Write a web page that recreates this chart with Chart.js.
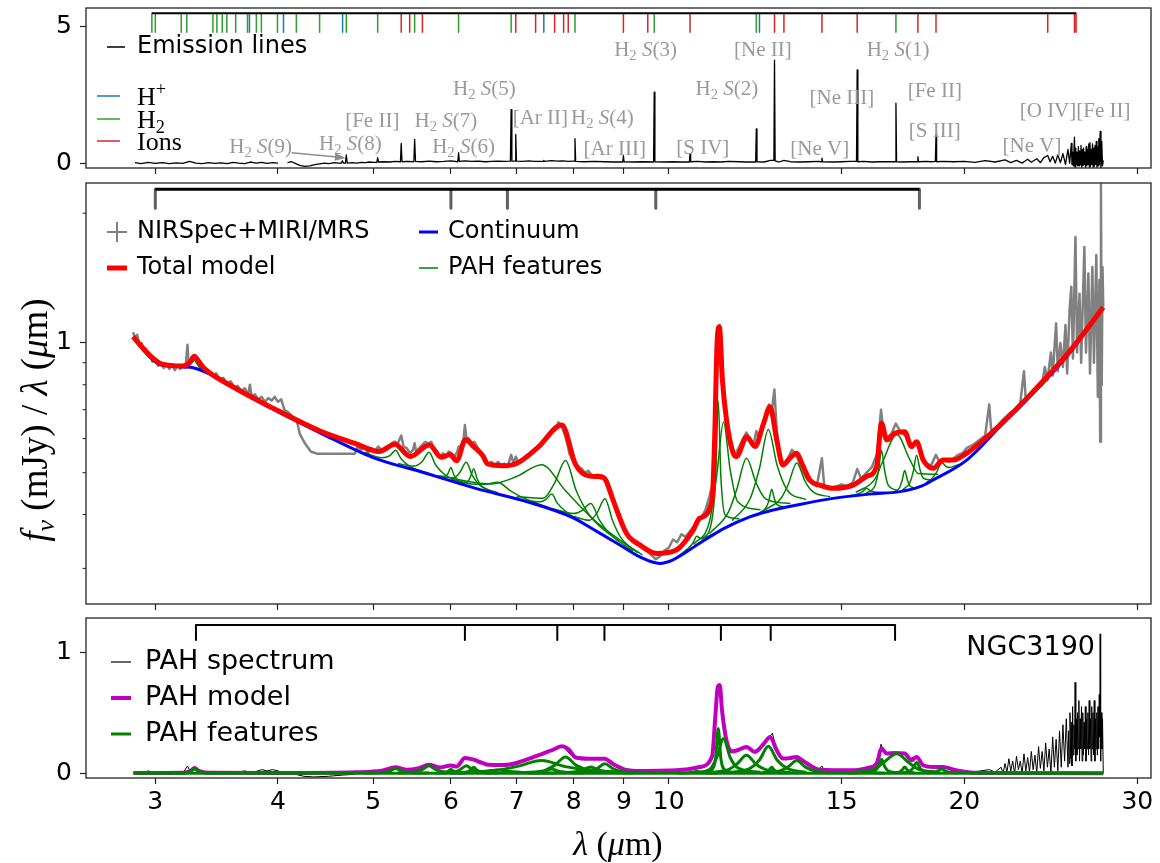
<!DOCTYPE html>
<html>
<head>
<meta charset="utf-8">
<script src="https://cdn.jsdelivr.net/npm/chart.js@4.4.1/dist/chart.umd.min.js"></script>
<style>
  html, body { margin: 0; padding: 0; background: #fff; }
  #wrap { position: relative; width: 1160px; height: 863px; }
  canvas { position: absolute; left: 0; }
</style>
</head>
<body>
<div id="wrap">
  <canvas id="top" width="1160" height="180" style="top:0"></canvas>
  <canvas id="mid" width="1160" height="435" style="top:180px"></canvas>
  <canvas id="bot" width="1160" height="248" style="top:615px"></canvas>
</div>
<script>
// axes
const X_MIN = 2.55, X_MAX = 30.98;
const xTicks = [3, 4, 5, 6, 7, 8, 9, 10, 15, 20, 30];
const topYTicks = [0, 5];
const midYTicks = [1];
const midYMinor = [0.3, 0.4, 0.5, 0.6, 0.7, 0.8, 0.9, 2];
const botYTicks = [0, 1];

// line markers of the top panel (micron)
const lineH2 = [2.976, 3.000, 3.188, 3.230, 3.434, 3.466, 3.510, 3.548, 3.622, 3.724, 3.802, 3.847, 3.995, 4.176, 4.410, 4.695, 5.053, 5.511, 6.109, 6.910, 8.026, 9.665, 12.279, 17.035];
const lineHplus = [3.741, 4.052, 4.654, 7.460, 12.37];
const lineIon = [5.340, 5.447, 5.612, 6.985, 7.318, 7.652, 7.815, 7.90, 8.991, 9.52, 10.511, 12.814, 13.10, 14.322, 15.555, 17.936, 18.713, 24.318, 25.890, 25.988];
const topMarkY = [5.5, 4.8];
// absorption bands (middle) and PAH complexes (bottom)
const absBands = [3.0, 6.0, 6.85, 9.7, 18.0];
const midMarkY = [2.273, 2.053];
const pahBands = [3.3, 6.2, 7.7, 8.6, 11.3, 12.7, 17.0];
const botMarkY = [1.223, 1.099];

// top panel: continuum subtracted emission line spectrum
const topSpec = [
[2.86,0.02],[2.9,-0.02],[2.95,0.03],[3.0,-0.01],[3.05,0.02],[3.1,-0.02],[3.15,0.01],[3.2,-0.01],[3.25,0.06],[3.3,0.0],[3.35,-0.02],[3.4,0.02],[3.45,-0.01],[3.5,0.01],[3.55,-0.02],[3.6,0.03],[3.65,0.0],[3.7,-0.02],[3.75,0.04],[3.8,0.0],[3.85,0.03],[3.9,-0.01],[3.95,0.02],[4.0,0.0],[4.04,null],
[4.09,0.02],[4.13,0.05],[4.17,-0.02],[4.21,-0.08],[4.26,-0.12],[4.31,-0.1],[4.36,-0.06],[4.41,-0.03],[4.46,0.0],[4.51,-0.02],[4.56,0.02],[4.61,0.0],[4.64,0.0],[4.652,0.08],[4.664,0.0],[4.685,0.0],[4.695,0.3],[4.705,0.0],[4.76,0.02],[4.81,0.0],[4.86,0.03],[4.91,0.02],[4.96,0.04],[5.01,0.03],[5.043,0.03],[5.053,0.2],[5.063,0.04],[5.12,0.05],[5.2,0.04],[5.26,0.06],[5.33,0.05],[5.34,0.72],[5.35,0.05],[5.42,0.06],[5.50,0.05],[5.511,0.87],[5.522,0.06],[5.6,0.05],[5.7,0.07],[5.8,0.05],[5.9,0.06],[6.0,0.08],[6.098,0.05],[6.109,0.38],[6.12,0.06],[6.2,0.08],[6.3,0.06],[6.4,0.07],[6.5,0.05],[6.6,0.06],[6.7,0.07],[6.8,0.06],[6.898,0.07],[6.91,1.96],[6.922,0.07],[6.973,0.07],[6.985,1.05],[6.997,0.07],[7.1,0.06],[7.2,0.08],[7.3,0.06],[7.448,0.06],[7.46,0.1],[7.472,0.06],[7.6,0.09],[7.7,0.07],[7.8,0.08],[7.9,0.06],[8.013,0.07],[8.026,0.9],[8.039,0.06],[8.2,0.05],[8.4,0.06],[8.6,0.05],[8.8,0.04],[8.977,0.04],[8.991,0.27],[9.005,0.05],[9.2,0.04],[9.4,0.05],[9.65,0.04],[9.665,2.6],[9.68,0.05],[9.9,0.04],[10.1,0.05],[10.3,0.04],[10.495,0.04],[10.511,0.34],[10.527,0.05],[10.7,0.06],[10.9,0.04],[11.1,0.05],[11.3,0.04],[11.5,0.06],[11.8,0.05],[12.0,0.04],[12.26,0.04],[12.279,1.25],[12.298,0.05],[12.5,0.04],[12.7,0.1],[12.795,0.1],[12.814,3.78],[12.833,0.08],[12.95,0.04],[13.1,0.1],[13.3,0.05],[13.6,0.04],[13.9,0.05],[14.2,0.06],[14.30,0.05],[14.322,0.18],[14.344,0.05],[14.7,0.04],[15.0,0.05],[15.3,0.06],[15.53,0.06],[15.555,3.42],[15.58,0.05],[15.8,0.06],[16.1,0.04],[16.4,0.05],[16.7,0.05],[17.01,0.05],[17.035,2.2],[17.06,0.05],[17.3,0.04],[17.6,0.05],[17.91,0.05],[17.936,0.24],[17.96,0.05],[18.3,0.06],[18.5,0.05],[18.685,0.06],[18.713,1.05],[18.74,0.05],[19.0,0.06],[19.5,0.05],[20.0,0.06],[20.5,0.03],[21.0,0.09],[21.5,0.04],[22.0,0.12],[22.3,0.02],[22.6,0.1],[22.9,0.0],[23.2,0.14],[23.4,0.03],[23.7,0.16],[23.9,0.02],[24.1,0.2],[24.318,0.28],[24.45,0.05],[24.6,0.25],[24.75,0.0],[24.9,0.3],[25.05,0.02],[25.2,0.35],[25.35,-0.05],[25.5,0.5],[25.6,0.0],
[25.7,0.72],[25.74,-0.05],[25.78,0.4],[25.82,-0.1],[25.86,0.5],[25.89,0.95],[25.93,-0.15],[25.97,0.55],[26.01,-0.05],[26.05,0.4],[26.09,-0.1],[26.13,0.6],[26.17,-0.1],[26.21,0.45],[26.25,-0.05],[26.29,0.65],[26.33,-0.15],[26.37,0.5],[26.41,-0.1],[26.45,0.55],[26.49,-0.05],[26.53,0.4],[26.57,-0.15],[26.61,0.6],[26.65,-0.1],[26.69,0.5],[26.73,-0.05],[26.77,0.7],[26.81,-0.15],[26.85,0.75],[26.89,-0.1],[26.93,0.5],[26.97,-0.05],[27.01,0.7],[27.05,-0.15],[27.09,0.55],[27.13,-0.1],[27.17,0.65],[27.21,-0.05],[27.25,0.8],[27.29,-0.15],[27.33,0.6],[27.37,-0.1],[27.41,0.9],[27.45,-0.05],[27.5,1.16],[27.55,-0.2],[27.6,0.8],[27.65,-0.1],[27.7,0.1]
];

// middle panel: observed spectrum, continuum, total model
const grayMid = [
[2.847,1.06],[2.86,1.03],[2.875,1.045],[2.89,0.99],[2.905,1.0],[2.92,0.96],[2.935,0.97],[2.95,0.935],[2.965,0.93],[2.98,0.905],[3.0,0.915],[3.02,0.885],[3.04,0.9],[3.06,0.875],[3.08,0.895],[3.10,0.87],[3.12,0.89],[3.14,0.865],[3.16,0.885],[3.18,0.87],[3.20,0.89],[3.22,0.875],[3.235,0.99],[3.245,0.885],[3.26,0.9],[3.28,0.925],[3.30,0.905],[3.32,0.89],[3.34,0.87],[3.36,0.885],[3.38,0.855],[3.40,0.86],[3.43,0.84],[3.46,0.85],[3.49,0.825],[3.52,0.83],[3.55,0.805],[3.58,0.815],[3.61,0.79],[3.64,0.795],[3.67,0.775],[3.70,0.785],[3.73,0.76],[3.745,0.8],[3.76,0.755],[3.79,0.76],[3.82,0.74],[3.85,0.75],[3.88,0.73],[3.91,0.745],[3.94,0.735],[3.97,0.75],[4.00,0.73],[4.03,0.74],[4.06,0.70],[4.10,0.69],[4.14,0.675],[4.18,0.66],[4.21,0.615],[4.26,0.585],[4.32,0.56],[4.39,0.553],[4.79,0.553],[4.82,0.575],[4.86,0.565],[4.90,0.575],[4.94,0.555],[4.98,0.57],[5.02,0.56],[5.06,0.575],[5.10,0.565],[5.14,0.572],[5.18,0.57],[5.22,0.585],[5.26,0.59],[5.30,0.585],[5.34,0.61],[5.37,0.575],[5.41,0.57],[5.45,0.555],[5.49,0.565],[5.51,0.585],[5.53,0.56],[5.57,0.57],[5.61,0.58],[5.65,0.59],[5.69,0.585],[5.73,0.59],[5.77,0.565],[5.81,0.56],[5.85,0.545],[5.89,0.555],[5.93,0.545],[5.97,0.56],[6.01,0.555],[6.05,0.545],[6.09,0.56],[6.11,0.575],[6.14,0.575],[6.18,0.60],[6.20,0.645],[6.22,0.605],[6.26,0.60],[6.30,0.585],[6.34,0.59],[6.38,0.575],[6.42,0.56],[6.46,0.545],[6.50,0.535],[6.55,0.525],[6.60,0.53],[6.65,0.52],[6.70,0.53],[6.75,0.52],[6.80,0.525],[6.85,0.515],[6.91,0.55],[6.95,0.525],[6.985,0.545],[7.02,0.53],[7.08,0.535],[7.14,0.54],[7.20,0.55],[7.26,0.555],[7.32,0.57],[7.38,0.575],[7.44,0.59],[7.50,0.60],[7.56,0.61],[7.62,0.625],[7.68,0.635],[7.72,0.655],[7.76,0.645],[7.80,0.63],[7.84,0.61],[7.88,0.585],[7.92,0.555],[7.96,0.54],[8.00,0.53],[8.05,0.525],[8.10,0.515],[8.16,0.51],[8.22,0.5],[8.28,0.505],[8.34,0.495],[8.40,0.49],[8.46,0.495],[8.52,0.485],[8.58,0.49],[8.64,0.47],[8.70,0.45],[8.78,0.43],[8.86,0.40],[8.94,0.38],[9.02,0.37],[9.10,0.355],[9.20,0.345],[9.30,0.34],[9.40,0.335],[9.50,0.33],[9.60,0.322],[9.70,0.315],[9.80,0.32],[9.90,0.33],[10.0,0.335],[10.1,0.35],[10.2,0.345],[10.3,0.36],[10.4,0.355],[10.5,0.365],[10.6,0.375],[10.7,0.385],[10.8,0.395],[10.9,0.41],[11.0,0.44],[11.08,0.47],[11.14,0.58],[11.19,0.85],[11.23,1.07],[11.27,1.10],[11.31,1.02],[11.35,0.86],[11.40,0.72],[11.46,0.64],[11.54,0.58],[11.62,0.56],[11.70,0.555],[11.80,0.575],[11.90,0.60],[12.00,0.62],[12.10,0.595],[12.20,0.58],[12.28,0.625],[12.35,0.60],[12.45,0.64],[12.55,0.675],[12.65,0.72],[12.74,0.70],[12.81,0.78],[12.88,0.63],[12.95,0.565],[13.05,0.525],[13.15,0.53],[13.25,0.545],[13.35,0.565],[13.45,0.555],[13.55,0.535],[13.65,0.51],[13.75,0.495],[13.85,0.48],[14.0,0.475],[14.15,0.465],[14.32,0.54],[14.4,0.465],[14.6,0.46],[14.8,0.465],[15.0,0.47],[15.2,0.465],[15.4,0.475],[15.555,0.51],[15.7,0.485],[15.9,0.50],[16.1,0.515],[16.3,0.555],[16.45,0.70],[16.55,0.61],[16.7,0.605],[16.85,0.615],[17.03,0.65],[17.2,0.625],[17.4,0.61],[17.55,0.585],[17.7,0.57],[17.85,0.585],[17.95,0.59],[18.1,0.545],[18.3,0.525],[18.5,0.52],[18.71,0.55],[18.9,0.525],[19.1,0.535],[19.3,0.53],[19.5,0.54],[19.7,0.55],[19.9,0.555],[20.1,0.57],[20.4,0.58],[20.7,0.595],[21.0,0.61],[21.2,0.72],[21.3,0.625],[21.6,0.64],[21.9,0.665],[22.2,0.685],[22.5,0.70],[22.8,0.725],[23.0,0.86],[23.1,0.735],[23.4,0.77],[23.7,0.79],[24.0,0.80],[24.15,0.88],[24.3,0.82],[24.5,0.95],[24.6,0.84],[24.8,1.11],[24.9,0.86],[25.05,1.0],[25.2,0.88],[25.35,1.1],[25.45,0.85],[25.6,1.2],[25.7,1.35],[25.8,0.92],[25.95,1.76],[26.05,0.95],[26.2,1.3],[26.3,0.9],[26.5,1.67],[26.6,0.95],[26.75,1.45],[26.85,0.85],[27.0,1.5],[27.1,0.9],[27.25,1.6],[27.35,0.75],[27.45,1.4],[27.5,0.59],[27.55,2.33],[27.6,0.8],[27.65,1.5],[27.7,1.21]
];
const blueMid = [[2.847,1.029],[2.952,0.935],[3.024,0.893],[3.098,0.884],[3.20,0.880],[3.279,0.876],[3.414,0.845],[3.584,0.792],[3.948,0.703],[4.420,0.618],[4.991,0.543],[5.634,0.500],[6.360,0.460],[7.178,0.428],[7.971,0.394],[8.438,0.366],[8.916,0.340],[9.344,0.319],[9.790,0.308],[10.10,0.314],[10.75,0.343],[11.40,0.372],[12.09,0.395],[12.58,0.406],[13.60,0.422],[14.70,0.436],[16.00,0.446],[17.20,0.452],[18.02,0.464],[18.59,0.481],[20.11,0.535],[21.74,0.639],[23.50,0.764],[25.42,0.929],[27.70,1.204]];
const redMid = [[2.847,1.034],[2.952,0.943],[3.048,0.893],[3.199,0.884],[3.252,0.901],[3.287,0.931],[3.319,0.909],[3.360,0.876],[3.584,0.795],[3.948,0.707],[4.420,0.624],[4.790,0.585],[5.072,0.560],[5.261,0.582],[5.454,0.545],[5.702,0.580],[5.866,0.543],[5.985,0.551],[6.082,0.533],[6.207,0.596],[6.334,0.574],[6.464,0.548],[6.541,0.524],[6.784,0.519],[7.006,0.526],[7.355,0.572],[7.782,0.645],[8.038,0.522],[8.302,0.491],[8.50,0.49],[8.62,0.482],[8.776,0.432],[9.055,0.362],[9.344,0.340],[9.716,0.325],[10.18,0.331],[10.59,0.368],[10.75,0.392],[11.07,0.432],[11.13,0.575],[11.20,1.0],[11.26,1.091],[11.34,0.821],[11.45,0.663],[11.63,0.555],[11.72,0.545],[12.01,0.606],[12.24,0.575],[12.49,0.651],[12.68,0.711],[12.88,0.596],[13.07,0.521],[13.28,0.540],[13.50,0.555],[13.66,0.526],[13.92,0.481],[14.25,0.468],[14.70,0.460],[15.41,0.468],[15.90,0.490],[16.28,0.517],[16.47,0.651],[16.67,0.596],[16.99,0.617],[17.39,0.622],[17.67,0.575],[17.88,0.590],[18.16,0.535],[18.59,0.512],[19.03,0.535],[19.48,0.535],[20.11,0.555],[21.74,0.645],[23.50,0.771],[25.42,0.938],[27.70,1.210]];
// PAH features on top of the continuum
const pahMid = [
[[3.15,0.884],[3.24,0.886],[3.27,0.900],[3.29,0.914],[3.31,0.894],[3.34,0.870],[3.45,0.836]],
[[4.9,0.557],[5.1,0.542],[5.2,0.548],[5.27,0.564],[5.34,0.538],[5.45,0.517],[5.7,0.498]],
[[5.3,0.525],[5.5,0.518],[5.61,0.531],[5.70,0.558],[5.79,0.521],[5.92,0.494],[6.2,0.472]],
[[5.8,0.492],[5.92,0.491],[5.96,0.498],[6.0,0.514],[6.04,0.495],[6.09,0.482],[6.2,0.471]],
[[5.9,0.488],[6.05,0.487],[6.13,0.502],[6.22,0.529],[6.31,0.492],[6.42,0.468],[6.7,0.449]],
[[6.1,0.476],[6.23,0.475],[6.28,0.489],[6.33,0.511],[6.38,0.484],[6.45,0.465],[6.6,0.453]],
[[6.0,0.482],[6.3,0.471],[6.5,0.470],[6.69,0.475],[6.9,0.454],[7.1,0.438],[7.6,0.412]],
[[6.0,0.485],[6.6,0.471],[7.0,0.490],[7.42,0.522],[7.85,0.454],[8.4,0.388],[9.3,0.326]],
[[7.2,0.430],[7.4,0.428],[7.5,0.434],[7.60,0.446],[7.7,0.425],[7.85,0.407],[8.2,0.382]],
[[7.0,0.440],[7.45,0.436],[7.65,0.473],[7.85,0.534],[8.05,0.454],[8.3,0.399],[8.9,0.346]],
[[7.6,0.413],[8.0,0.402],[8.15,0.408],[8.33,0.424],[8.5,0.388],[8.7,0.362],[9.2,0.329]],
[[8.0,0.396],[8.3,0.388],[8.45,0.403],[8.61,0.435],[8.77,0.386],[8.95,0.352],[9.4,0.322]],
[[10.2,0.319],[10.45,0.333],[10.58,0.343],[10.68,0.356],[10.78,0.352],[10.9,0.354],[11.2,0.364]],
[[10.8,0.350],[11.05,0.382],[11.16,0.482],[11.23,0.734],[11.30,0.488],[11.42,0.398],[11.8,0.391]],
[[10.6,0.341],[11.0,0.385],[11.19,0.493],[11.37,0.656],[11.55,0.507],[11.75,0.429],[12.4,0.410]],
[[11.0,0.361],[11.5,0.405],[11.73,0.458],[12.0,0.540],[12.27,0.474],[12.55,0.435],[13.3,0.424]],
[[11.6,0.387],[12.1,0.435],[12.37,0.512],[12.63,0.630],[12.89,0.521],[13.2,0.456],[13.8,0.433]],
[[12.4,0.405],[12.57,0.416],[12.65,0.432],[12.73,0.458],[12.81,0.435],[12.9,0.421],[13.1,0.417]],
[[12.5,0.409],[13.0,0.435],[13.23,0.469],[13.50,0.527],[13.77,0.477],[14.05,0.450],[14.6,0.440]],
[[15.2,0.441],[15.6,0.447],[15.75,0.452],[15.9,0.460],[16.05,0.454],[16.2,0.451],[16.6,0.450]],
[[15.9,0.449],[16.22,0.467],[16.35,0.504],[16.47,0.563],[16.59,0.505],[16.72,0.469],[17.1,0.455]],
[[15.5,0.450],[16.2,0.482],[16.5,0.528],[17.07,0.613],[17.6,0.536],[17.95,0.498],[18.8,0.496]],
[[17.0,0.453],[17.18,0.462],[17.28,0.479],[17.39,0.506],[17.5,0.481],[17.6,0.466],[17.8,0.461]],
[[17.3,0.456],[17.6,0.474],[17.74,0.503],[17.88,0.549],[18.02,0.509],[18.16,0.486],[18.5,0.481]],
[[18.3,0.474],[18.6,0.489],[18.78,0.506],[18.96,0.529],[19.14,0.518],[19.3,0.514],[19.7,0.522]]
];

// bottom panel: PAH spectrum, PAH model, individual features
const botSpec = [
[2.85,0.01],[2.9,-0.01],[2.95,0.02],[3.0,0.0],[3.05,0.015],[3.1,-0.01],[3.15,0.01],[3.2,0.0],[3.235,0.06],[3.26,0.01],[3.29,0.04],[3.33,0.01],[3.38,-0.005],[3.45,0.01],[3.5,0.0],[3.55,0.015],[3.6,-0.005],[3.65,0.01],[3.7,0.02],[3.75,0.005],[3.8,0.015],[3.85,0.03],[3.9,0.02],[3.95,0.03],[4.0,0.02],[4.05,0.0],[4.15,-0.005],[4.25,-0.025],[4.35,-0.03],[4.5,-0.025],[4.65,-0.015],[4.75,-0.01],[4.85,0.005],[4.95,0.01],[5.05,0.02],[5.15,0.015],[5.25,0.04],[5.3,0.05],[5.35,0.035],[5.45,0.03],[5.55,0.04],[5.65,0.06],[5.72,0.07],[5.8,0.05],[5.9,0.045],[6.0,0.065],[6.05,0.05],[6.1,0.07],[6.15,0.1],[6.2,0.13],[6.25,0.125],[6.3,0.115],[6.36,0.12],[6.42,0.09],[6.5,0.075],[6.6,0.07],[6.7,0.075],[6.8,0.07],[6.9,0.08],[7.0,0.085],[7.1,0.1],[7.2,0.115],[7.3,0.13],[7.4,0.15],[7.5,0.17],[7.6,0.19],[7.7,0.21],[7.78,0.225],[7.85,0.2],[7.95,0.15],[8.05,0.13],[8.15,0.125],[8.3,0.12],[8.45,0.12],[8.6,0.118],[8.7,0.09],[8.85,0.05],[9.0,0.03],[9.2,0.02],[9.5,0.015],[9.8,0.02],[10.0,0.025],[10.2,0.03],[10.5,0.04],[10.8,0.055],[11.0,0.09],[11.1,0.2],[11.18,0.6],[11.22,0.72],[11.27,0.73],[11.32,0.55],[11.4,0.32],[11.5,0.22],[11.65,0.18],[11.8,0.2],[12.0,0.22],[12.2,0.18],[12.4,0.22],[12.6,0.28],[12.75,0.33],[12.85,0.22],[13.0,0.14],[13.2,0.12],[13.45,0.14],[13.6,0.12],[13.8,0.08],[14.0,0.04],[14.2,0.03],[14.32,0.06],[14.4,0.025],[14.8,0.02],[15.2,0.025],[15.6,0.03],[15.9,0.045],[16.2,0.07],[16.35,0.12],[16.45,0.24],[16.55,0.17],[16.8,0.16],[17.0,0.17],[17.3,0.165],[17.6,0.12],[17.85,0.14],[18.1,0.07],[18.4,0.055],[18.7,0.05],[19.0,0.055],[19.3,0.04],[19.7,0.03],[20.0,0.02],[20.4,0.01],[20.8,0.02],[21.2,0.03],[21.5,0.01],
[21.8,0.05],[21.9,0.0],[22.0,0.08],[22.1,0.01],[22.2,0.12],[22.3,0.02],[22.4,0.1],[22.5,0.0],[22.6,0.14],[22.7,0.03],[22.8,0.1],[22.9,0.0],[23.0,0.16],[23.1,0.02],[23.2,0.13],[23.3,0.01],[23.4,0.18],[23.5,0.03],[23.6,0.15],[23.7,0.0],[23.8,0.22],[23.9,0.04],[24.0,0.18],[24.1,0.02],[24.2,0.25],[24.3,0.05],[24.4,0.2],[24.5,0.0],[24.6,0.3],[24.7,0.05],[24.8,0.28],[24.9,0.02],[25.0,0.35],[25.1,0.05],[25.2,0.4],[25.3,0.1],[25.4,0.45],
[25.5,0.05],[25.54,0.35],[25.58,0.08],[25.62,0.5],[25.66,0.12],[25.7,0.42],[25.74,0.06],[25.78,0.55],[25.82,0.15],[25.86,0.4],[25.9,0.2],[25.93,0.75],[25.97,0.1],[26.0,0.45],[26.04,0.15],[26.08,0.5],[26.12,0.2],[26.16,0.6],[26.2,0.1],[26.24,0.45],[26.28,0.2],[26.32,0.55],[26.36,0.1],[26.4,0.5],[26.44,0.15],[26.48,0.42],[26.52,0.2],[26.56,0.55],[26.6,0.1],[26.64,0.45],[26.68,0.2],[26.72,0.5],[26.76,0.15],[26.8,0.6],[26.84,0.2],[26.88,0.45],[26.92,0.1],[26.96,0.55],[27.0,0.2],[27.04,0.5],[27.08,0.15],[27.12,0.6],[27.16,0.1],[27.2,0.45],[27.24,0.2],[27.28,0.5],[27.32,0.15],[27.36,0.55],[27.4,0.2],[27.44,0.65],[27.48,0.3],[27.5,1.15],[27.53,0.1],[27.57,0.5],[27.61,0.2],[27.65,0.45],[27.7,0.0]
];
const botModel = [[2.85,0.002],[3.20,0.004],[3.26,0.02],[3.29,0.043],[3.32,0.02],[3.40,0.004],[4.0,0.002],[4.8,0.008],[5.1,0.02],[5.27,0.05],[5.40,0.03],[5.55,0.04],[5.70,0.07],[5.85,0.048],[6.0,0.065],[6.08,0.055],[6.2,0.125],[6.33,0.112],[6.46,0.085],[6.55,0.07],[6.8,0.068],[7.0,0.085],[7.35,0.145],[7.6,0.19],[7.78,0.222],[7.9,0.2],[8.04,0.13],[8.3,0.12],[8.6,0.12],[8.8,0.07],[9.05,0.028],[9.5,0.018],[10.0,0.022],[10.5,0.035],[10.75,0.052],[11.07,0.14],[11.15,0.45],[11.22,0.715],[11.27,0.728],[11.33,0.52],[11.45,0.27],[11.6,0.18],[11.75,0.19],[12.0,0.217],[12.24,0.176],[12.5,0.245],[12.68,0.30],[12.88,0.19],[13.07,0.121],[13.28,0.125],[13.5,0.135],[13.66,0.11],[13.92,0.066],[14.25,0.03],[15.4,0.025],[15.95,0.045],[16.28,0.08],[16.47,0.204],[16.67,0.163],[16.99,0.168],[17.39,0.163],[17.67,0.107],[17.88,0.135],[18.16,0.066],[18.59,0.052],[19.03,0.052],[19.5,0.03],[20.1,0.011],[21,0.003],[27.7,0.0]];
const pahBot = [
[[2.85,0],[27.7,0]],
[[3.15,0.002],[3.24,0.008],[3.27,0.025],[3.29,0.04],[3.31,0.025],[3.34,0.008],[3.45,0.002]],
[[4.9,0.002],[5.1,0.006],[5.2,0.018],[5.27,0.04],[5.34,0.018],[5.45,0.006],[5.7,0.002]],
[[5.3,0.003],[5.5,0.01],[5.61,0.03],[5.70,0.062],[5.79,0.03],[5.92,0.01],[6.2,0.003]],
[[5.8,0.002],[5.92,0.007],[5.96,0.017],[6.0,0.034],[6.04,0.017],[6.09,0.007],[6.2,0.002]],
[[5.9,0.003],[6.05,0.01],[6.13,0.03],[6.22,0.062],[6.31,0.03],[6.42,0.01],[6.7,0.003]],
[[6.1,0.002],[6.23,0.008],[6.28,0.025],[6.33,0.05],[6.38,0.025],[6.45,0.008],[6.6,0.002]],
[[6.0,0.002],[6.3,0.008],[6.5,0.015],[6.69,0.028],[6.9,0.015],[7.1,0.007],[7.6,0.002]],
[[6.0,0.005],[6.6,0.02],[7.0,0.055],[7.42,0.105],[7.85,0.055],[8.4,0.02],[9.3,0.005]],
[[7.2,0.003],[7.4,0.01],[7.5,0.02],[7.60,0.036],[7.7,0.02],[7.85,0.008],[8.2,0.002]],
[[7.0,0.005],[7.45,0.02],[7.65,0.065],[7.85,0.135],[8.05,0.065],[8.3,0.025],[8.9,0.005]],
[[7.6,0.003],[8.0,0.01],[8.15,0.025],[8.33,0.052],[8.5,0.025],[8.7,0.01],[9.2,0.003]],
[[8.0,0.004],[8.3,0.014],[8.45,0.038],[8.61,0.078],[8.77,0.038],[8.95,0.014],[9.4,0.004]],
[[10.2,0.001],[10.45,0.004],[10.58,0.008],[10.68,0.016],[10.78,0.008],[10.9,0.004],[11.2,0.001]],
[[10.8,0.005],[11.05,0.025],[11.16,0.12],[11.23,0.369],[11.30,0.12],[11.42,0.025],[11.8,0.005]],
[[10.6,0.005],[11.0,0.03],[11.19,0.13],[11.37,0.285],[11.55,0.13],[11.75,0.045],[12.4,0.008]],
[[11.0,0.006],[11.5,0.03],[11.73,0.075],[12.0,0.148],[12.27,0.075],[12.55,0.03],[13.3,0.006]],
[[11.6,0.008],[12.1,0.04],[12.37,0.11],[12.63,0.223],[12.89,0.11],[13.2,0.04],[13.8,0.008]],
[[12.4,0.003],[12.57,0.01],[12.65,0.025],[12.73,0.05],[12.81,0.025],[12.9,0.01],[13.1,0.003]],
[[12.5,0.005],[13.0,0.022],[13.23,0.053],[13.50,0.106],[13.77,0.053],[14.05,0.022],[14.6,0.005]],
[[15.2,0.001],[15.6,0.004],[15.75,0.008],[15.9,0.015],[16.05,0.008],[16.2,0.004],[16.6,0.001]],
[[15.9,0.004],[16.22,0.02],[16.35,0.056],[16.47,0.115],[16.59,0.056],[16.72,0.02],[17.1,0.004]],
[[15.5,0.008],[16.2,0.035],[16.5,0.08],[17.07,0.162],[17.6,0.08],[17.95,0.035],[18.8,0.008]],
[[17.0,0.002],[17.18,0.01],[17.28,0.026],[17.39,0.052],[17.5,0.026],[17.6,0.01],[17.8,0.002]],
[[17.3,0.003],[17.6,0.018],[17.74,0.045],[17.88,0.088],[18.02,0.045],[18.16,0.018],[18.5,0.003]],
[[18.3,0.002],[18.6,0.008],[18.78,0.018],[18.96,0.035],[19.14,0.018],[19.3,0.008],[19.7,0.002]]
];

// line labels of the top panel, at (micron, flux)
const lineLabels = [
  { p: [['H'], ['2', 'sub'], [' '], ['S', 'i'], ['(9)']], x: 3.84, y: 0.63 },
  { p: [['H'], ['2', 'sub'], [' '], ['S', 'i'], ['(8)']], x: 4.74, y: 0.74 },
  { p: [['[Fe II]']], x: 4.99, y: 1.59 },
  { p: [['H'], ['2', 'sub'], [' '], ['S', 'i'], ['(7)']], x: 5.93, y: 1.59 },
  { p: [['H'], ['2', 'sub'], [' '], ['S', 'i'], ['(6)']], x: 6.18, y: 0.63 },
  { p: [['H'], ['2', 'sub'], [' '], ['S', 'i'], ['(5)']], x: 6.49, y: 2.76 },
  { p: [['[Ar II]']], x: 7.40, y: 1.70 },
  { p: [['H'], ['2', 'sub'], [' '], ['S', 'i'], ['(4)']], x: 8.56, y: 1.70 },
  { p: [['[Ar III]']], x: 8.81, y: 0.56 },
  { p: [['H'], ['2', 'sub'], [' '], ['S', 'i'], ['(3)']], x: 9.47, y: 4.19 },
  { p: [['[S IV]']], x: 10.83, y: 0.60 },
  { p: [['H'], ['2', 'sub'], [' '], ['S', 'i'], ['(2)']], x: 11.46, y: 2.76 },
  { p: [['[Ne II]']], x: 12.47, y: 4.19 },
  { p: [['[Ne V]']], x: 14.25, y: 0.56 },
  { p: [['[Ne III]']], x: 15.01, y: 2.43 },
  { p: [['H'], ['2', 'sub'], [' '], ['S', 'i'], ['(1)']], x: 17.12, y: 4.19 },
  { p: [['[Fe II]']], x: 18.66, y: 2.69 },
  { p: [['[S III]']], x: 18.66, y: 1.22 },
  { p: [['[Ne V]']], x: 23.44, y: 0.67 },
  { p: [['[O IV][Fe II]']], x: 25.93, y: 1.95 }
];
const arrowFrom = [4.13, 0.38], arrowTo = [4.69, 0.19];

const SANS = 'DejaVu Sans', SERIF = 'Liberation Serif';

function markSegments(list, y0, y1) {
  const out = [];
  list.forEach(l => { out.push([l, y0], [l, y1], [l, null]); });
  return out;
}
function bracket(list, y0, y1) {
  return { bar: [[list[0], y0], [list[list.length - 1], y0]], ticks: markSegments(list, y0, y1) };
}

function ds(data, color, width, extra) {
  return Object.assign({ data, borderColor: color, borderWidth: width, pointRadius: 0, fill: false, tension: 0, spanGaps: false }, extra || {});
}

function xAxis(h, labels) {
  return {
    type: 'logarithmic', min: X_MIN, max: X_MAX, bounds: 'data',
    afterBuildTicks: s => { s.ticks = xTicks.map(v => ({ value: v })); },
    afterFit: s => { s.height = h; s.paddingLeft = 0; s.paddingRight = 0; },
    border: { display: false },
    grid: { drawOnChartArea: false, tickLength: 6, tickColor: '#222', tickWidth: 1.2 },
    ticks: { display: labels, autoSkip: false, maxRotation: 0, minRotation: 0, padding: 3, color: '#000',
      font: { family: SANS, size: 25 }, callback: v => String(v) }
  };
}
function yAxis(type, min, max, ticks) {
  return {
    type, min, max, bounds: 'data',
    afterBuildTicks: s => { s.ticks = ticks.map(v => ({ value: v })); },
    afterFit: s => { s.width = 86; s.paddingTop = 0; s.paddingBottom = 0; },
    border: { display: false },
    grid: { drawOnChartArea: false, tickLength: 6, tickColor: '#222', tickWidth: 1.2 },
    ticks: { autoSkip: false, padding: 8, color: '#000', font: { family: SANS, size: 25 }, callback: v => String(v) }
  };
}
function options(xA, yA, padTop) {
  return {
    responsive: false, animation: false, events: [],
    layout: { padding: { top: padTop, right: 9, left: 0, bottom: 0 } },
    plugins: { legend: { display: false }, tooltip: { enabled: false } },
    elements: { point: { radius: 0 }, line: { borderJoinStyle: 'round' } },
    scales: { x: xA, y: yA }
  };
}

const frame = {
  id: 'frame',
  afterDatasetsDraw(c) {
    const a = c.chartArea, g = c.ctx;
    g.save(); g.strokeStyle = '#222'; g.lineWidth = 1.3;
    g.strokeRect(a.left, a.top, a.right - a.left, a.bottom - a.top);
    g.restore();
  }
};

function rich(g, parts, x, y, size, family, color, align) {
  const fnt = st => ((st || '').indexOf('i') >= 0 ? 'italic ' : '') +
    ((st === 'sub' || st === 'sup' || st === 'subi') ? size * 0.7 : size) + 'px "' + family + '"';
  let w = 0;
  parts.forEach(p => { g.font = fnt(p[1]); w += g.measureText(p[0]).width; });
  let cx = align === 'center' ? x - w / 2 : (align === 'right' ? x - w : x);
  g.fillStyle = color; g.textAlign = 'left'; g.textBaseline = 'alphabetic';
  parts.forEach(p => {
    const st = p[1] || '';
    g.font = fnt(st);
    let dy = 0;
    if (st === 'sub' || st === 'subi') dy = size * 0.18;
    if (st === 'sup') dy = -size * 0.38;
    g.fillText(p[0], cx, y + dy);
    cx += g.measureText(p[0]).width;
  });
}
function hline(g, x0, x1, y, color, w) {
  g.strokeStyle = color; g.lineWidth = w; g.beginPath(); g.moveTo(x0, y); g.lineTo(x1, y); g.stroke();
}
function text(g, s, x, y, size, align) {
  g.font = size + 'px "' + SANS + '"'; g.fillStyle = '#000';
  g.textAlign = align || 'left'; g.textBaseline = 'middle'; g.fillText(s, x, y);
}

// ---------- top panel ----------
const topBar = [[lineH2[0], topMarkY[0]], [lineIon[lineIon.length - 1], topMarkY[0]]];
new Chart(document.getElementById('top'), {
  type: 'line',
  data: { datasets: [
    ds(topBar, '#000', 2),
    ds(markSegments(lineIon, topMarkY[0], topMarkY[1]), '#d62728', 1.5),
    ds(markSegments(lineHplus, topMarkY[0], topMarkY[1]), '#1f77b4', 1.5),
    ds(markSegments(lineH2, topMarkY[0], topMarkY[1]), '#2ca02c', 1.5),
    ds(topSpec, '#000', 1.3)
  ] },
  options: options(xAxis(12, false), yAxis('linear', -0.18, 5.69, topYTicks), 8),
  plugins: [frame, {
    id: 'topText',
    afterDraw(c) {
      const g = c.ctx, sx = c.scales.x, sy = c.scales.y;
      g.save();
      lineLabels.forEach(l => {
        rich(g, l.p, sx.getPixelForValue(l.x), sy.getPixelForValue(l.y) + 7, 21, SERIF, '#999', 'center');
      });
      const x0 = sx.getPixelForValue(arrowFrom[0]), y0 = sy.getPixelForValue(arrowFrom[1]);
      const x1 = sx.getPixelForValue(arrowTo[0]), y1 = sy.getPixelForValue(arrowTo[1]);
      const ang = Math.atan2(y1 - y0, x1 - x0);
      g.strokeStyle = g.fillStyle = '#8c8c8c'; g.lineWidth = 1.5;
      g.beginPath(); g.moveTo(x0, y0); g.lineTo(x1 - 9 * Math.cos(ang), y1 - 9 * Math.sin(ang)); g.stroke();
      g.beginPath(); g.moveTo(x1, y1);
      g.lineTo(x1 - 11 * Math.cos(ang) + 4 * Math.sin(ang), y1 - 11 * Math.sin(ang) - 4 * Math.cos(ang));
      g.lineTo(x1 - 11 * Math.cos(ang) - 4 * Math.sin(ang), y1 - 11 * Math.sin(ang) + 4 * Math.cos(ang));
      g.closePath(); g.fill();
      // legends
      hline(g, 107, 125, 47, '#000', 1.5);
      text(g, 'Emission lines', 137, 47, 24);
      hline(g, 97, 120, 96, '#1f77b4', 1.5);
      hline(g, 97, 120, 119, '#2ca02c', 1.5);
      hline(g, 97, 120, 141, '#d62728', 1.5);
      rich(g, [['H'], ['+', 'sup']], 137, 105, 26, SERIF, '#000', 'left');
      rich(g, [['H'], ['2', 'sub']], 137, 128, 26, SERIF, '#000', 'left');
      rich(g, [['Ions']], 137, 150, 26, SERIF, '#000', 'left');
      g.restore();
    }
  }]
});

// ---------- middle panel ----------
const absB = bracket(absBands, midMarkY[0], midMarkY[1]);
const midSets = [
  ds(redMid, '#ff0000', 5, { cubicInterpolationMode: 'monotone' }),
  ds(blueMid, '#0000ff', 3, { cubicInterpolationMode: 'monotone' })
];
pahMid.forEach(f => midSets.push(ds(f, '#008000', 1.5, { cubicInterpolationMode: 'monotone' })));
midSets.push(ds(grayMid, '#808080', 2.5));
midSets.push(ds(absB.bar, '#000', 3));
midSets.push(ds(absB.ticks, '#606060', 3));
new Chart(document.getElementById('mid'), {
  type: 'line',
  data: { datasets: midSets },
  options: options(xAxis(11, false), yAxis('logarithmic', 0.248, 2.35, midYTicks), 3),
  plugins: [frame, {
    id: 'midText',
    afterDraw(c) {
      const g = c.ctx, sy = c.scales.y, a = c.chartArea;
      g.save();
      midYMinor.forEach(v => { const y = sy.getPixelForValue(v); hline(g, a.left - 3.5, a.left, y, '#222', 1); });
      // legend
      hline(g, 107, 127, 52, '#808080', 2);
      g.beginPath(); g.moveTo(117, 42); g.lineTo(117, 62); g.stroke();
      text(g, 'NIRSpec+MIRI/MRS', 137, 52, 24);
      hline(g, 107, 127, 88, '#ff0000', 5);
      text(g, 'Total model', 137, 88, 24);
      hline(g, 419, 438, 52, '#0000ff', 3);
      text(g, 'Continuum', 448, 52, 24);
      hline(g, 419, 438, 88, '#008000', 1.5);
      text(g, 'PAH features', 448, 88, 24);
      // y label
      g.translate(35, 240); g.rotate(-Math.PI / 2);
      rich(g, [['f', 'i'], ['ν', 'subi'], [' (mJy) / '], ['λ', 'i'], [' ('], ['μ', 'i'], ['m)']], 0, 12, 37, SERIF, '#000', 'center');
      g.restore();
    }
  }]
});

// ---------- bottom panel ----------
const pahB = bracket(pahBands, botMarkY[0], botMarkY[1]);
const botSets = [];
pahBot.forEach(f => botSets.push(ds(f, '#008000', 3, { cubicInterpolationMode: 'monotone' })));
botSets.push(ds(botModel, '#bf00bf', 4, { cubicInterpolationMode: 'monotone' }));
botSets.push(ds(botSpec, '#000', 1));
botSets.push(ds(pahB.bar, '#000', 2));
botSets.push(ds(pahB.ticks, '#000', 2));
new Chart(document.getElementById('bot'), {
  type: 'line',
  data: { datasets: botSets },
  options: options(xAxis(85, true), yAxis('linear', -0.039, 1.281, botYTicks), 3),
  plugins: [frame, {
    id: 'botText',
    afterDraw(c) {
      const g = c.ctx;
      g.save();
      hline(g, 111, 131, 47, '#333', 1.5);
      text(g, 'PAH spectrum', 145, 47, 27);
      hline(g, 111, 131, 83, '#bf00bf', 4);
      text(g, 'PAH model', 145, 83, 27);
      hline(g, 111, 131, 119, '#008000', 3);
      text(g, 'PAH features', 145, 119, 27);
      text(g, 'NGC3190', 1095, 33, 27, 'right');
      rich(g, [['λ', 'i'], [' ('], ['μ', 'i'], ['m)']], 618, 240, 34, SERIF, '#000', 'center');
      g.restore();
    }
  }]
});
</script>
</body>
</html>
